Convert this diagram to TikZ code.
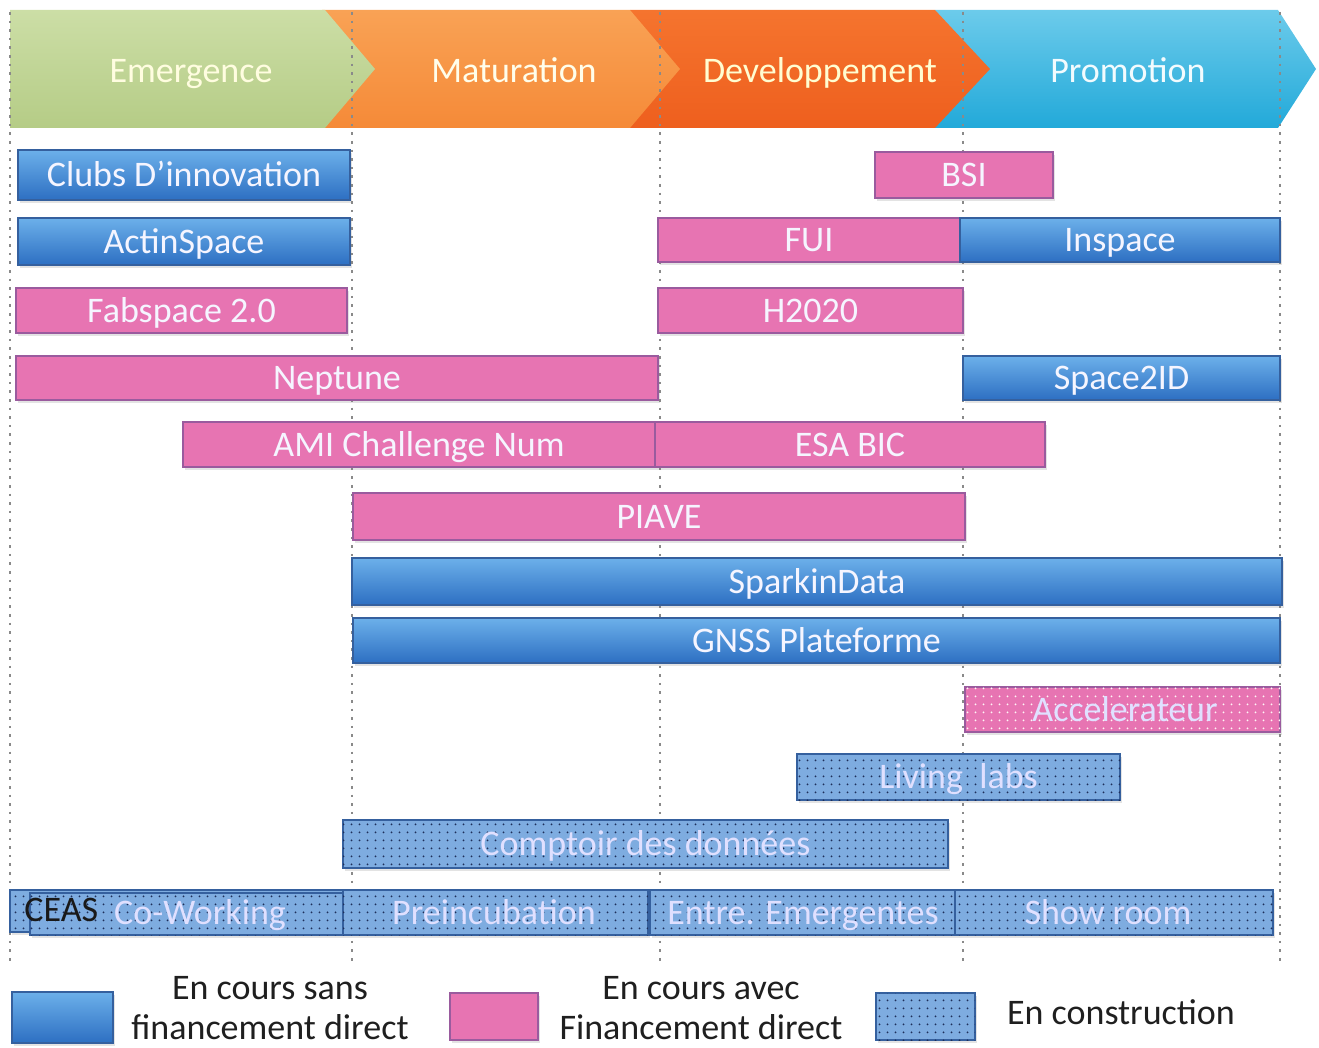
\documentclass[tikz,border=0pt]{standalone}
\usepackage{fontspec}
\setmainfont{Carlito}
\usetikzlibrary{patterns.meta,shadows,fit}
\definecolor{greenT}{HTML}{CCDEA6}
\definecolor{greenB}{HTML}{B5CC86}
\definecolor{orangeT}{HTML}{F9A255}
\definecolor{orangeB}{HTML}{F58A38}
\definecolor{dorangeT}{HTML}{F5742E}
\definecolor{dorangeB}{HTML}{EE5F1E}
\definecolor{cyanT}{HTML}{6CCBEB}
\definecolor{cyanB}{HTML}{22A9D9}
\definecolor{blueT}{HTML}{6CB0EA}
\definecolor{blueB}{HTML}{2D6FC2}
\definecolor{blueE}{HTML}{35609E}
\definecolor{pinkF}{HTML}{E774B2}
\definecolor{pinkE}{HTML}{9A5B9E}
\definecolor{cblue}{HTML}{7EACE0}
\definecolor{navy}{HTML}{1E2F5A}
\definecolor{guide}{HTML}{8A8A8A}
\begin{document}
\begin{tikzpicture}[x=0.5pt,y=-0.5pt,
  barbase/.style={rectangle, inner sep=0pt, line width=0.8pt,
    drop shadow={opacity=0.22, shadow xshift=0.8pt, shadow yshift=-1.4pt}},
  bluebar/.style={barbase, draw=blueE, top color=blueT, bottom color=blueB},
  pinkbar/.style={barbase, draw=pinkE, fill=pinkF},
  cbluebar/.style={barbase, draw=blueE, fill=cblue,
    postaction={pattern={Dots[distance=4pt,radius=0.55pt]}, pattern color=navy}},
  cpinkbar/.style={barbase, draw=pinkE, fill=pinkF,
    postaction={pattern={Dots[distance=4pt,radius=0.55pt]}, pattern color=white!85!pink}},
  bartext/.style={inner sep=0pt, font=\fontsize{18}{21}\selectfont, text=white!96!blue, text height=13.6pt, text depth=2pt},
  ctext/.style={bartext, text=white!88!blue},
  phase/.style={inner sep=0pt, font=\fontsize{18}{21}\selectfont, text height=13.6pt, text depth=2pt},
  guideline/.style={guide, line width=1.3pt, dash pattern=on 1.3pt off 3pt},
  legtext/.style={font=\fontsize{18}{20}\selectfont, text=black!88, align=center, inner sep=0pt}
]
\useasboundingbox (0,0) rectangle (1319,1048);
% ---- phase header ----
\shade[top color=cyanT, bottom color=cyanB] (935,10) -- (1278,10) -- (1316,69) -- (1278,128) -- (935,128) -- cycle;
\shade[top color=dorangeT, bottom color=dorangeB] (630,10) -- (935,10) -- (990,69) -- (935,128) -- (630,128) -- cycle;
\shade[top color=orangeT, bottom color=orangeB] (322,10) -- (630,10) -- (680,69) -- (630,128) -- (322,128) -- cycle;
\shade[top color=greenT, bottom color=greenB] (10,10) -- (325,10) -- (375,69) -- (325,128) -- (10,128) -- cycle;
\node[phase, text=white!88!yellow] (emergence) at (191,71) {Emergence};
\node[phase, text=white!92!yellow] (maturation) at (514,71) {Maturation};
\node[phase, text=white!82!yellow] (developpement) at (820,71) {Developpement};
\node[phase, text=white!95!cyan] (promotion) at (1128,71) {Promotion};
% ---- phase guides ----
\foreach \gx in {10,352,660,963,1280}
  \draw[guideline] (\gx,12) -- (\gx,965);
% ---- bars ----
\node[bluebar, fit={(18,150) (350,200)}] (clubs) {};
\node[bartext] (clubs-t) at (clubs.center) {Clubs D’innovation};
\node[pinkbar, fit={(875,152) (1053,198)}] (bsi) {};
\node[bartext] (bsi-t) at (bsi.center) {BSI};
\node[bluebar, fit={(18,218) (350,265)}] (actinspace) {};
\node[bartext] (actinspace-t) at (actinspace.center) {ActinSpace};
\node[pinkbar, fit={(658,218) (960,262)}] (fui) {};
\node[bartext] (fui-t) at (fui.center) {FUI};
\node[bluebar, fit={(960,218) (1280,262)}] (inspace) {};
\node[bartext] (inspace-t) at (inspace.center) {Inspace};
\node[pinkbar, fit={(16,288) (347,333)}] (fabspace) {};
\node[bartext] (fabspace-t) at (fabspace.center) {Fabspace 2.0};
\node[pinkbar, fit={(658,288) (963,333)}] (h2020) {};
\node[bartext] (h2020-t) at (h2020.center) {H2020};
\node[pinkbar, fit={(16,356) (658,400)}] (neptune) {};
\node[bartext] (neptune-t) at (neptune.center) {Neptune};
\node[bluebar, fit={(963,356) (1280,400)}] (space2id) {};
\node[bartext] (space2id-t) at (space2id.center) {Space2ID};
\node[pinkbar, fit={(183,422) (655,467)}] (ami) {};
\node[bartext] (ami-t) at (ami.center) {AMI Challenge Num};
\node[pinkbar, fit={(655,422) (1045,467)}] (esabic) {};
\node[bartext] (esabic-t) at (esabic.center) {ESA BIC};
\node[pinkbar, fit={(353,493) (965,540)}] (piave) {};
\node[bartext] (piave-t) at (piave.center) {PIAVE};
\node[bluebar, fit={(352,558) (1282,605)}] (sparkin) {};
\node[bartext] (sparkin-t) at (sparkin.center) {SparkinData};
\node[bluebar, fit={(353,618) (1280,663)}] (gnss) {};
\node[bartext] (gnss-t) at (gnss.center) {GNSS Plateforme};
\node[cpinkbar, fit={(965,687) (1280,732)}] (accel) {};
\node[ctext] (accel-t) at (1125,710) {Accelerateur};
\node[cbluebar, fit={(797,754) (1120,800)}] (living) {};
\node[ctext] (living-t) at (living.center) {Living\ \ labs};
\node[cbluebar, fit={(343,820) (948,868)}] (comptoir) {};
\node[ctext] (comptoir-t) at (comptoir.center) {Comptoir des données};
\node[cbluebar, fit={(10,890) (343,932)}] (ceasbox) {};
\node[cbluebar, fit={(30,893) (343,935)}] (coworking) {};
\node[ctext] (coworking-t) at (200,913) {Co-Working};
\node[cbluebar, fit={(343,890) (648,935)}] (preinc) {};
\node[ctext] (preinc-t) at (494,913) {Preincubation};
\node[cbluebar, fit={(650,890) (955,935)}] (entre) {};
\node[ctext] (entre-t) at (803,913) {Entre. Emergentes};
\node[cbluebar, fit={(955,890) (1273,935)}] (showroom) {};
\node[ctext] (showroom-t) at (1108,913) {Show room};
\node[bartext, text=black!90, anchor=west] (ceas) at (24,910) {CEAS};
% ---- legend ----
\node[bluebar, drop shadow={opacity=0}, fit={(12,992) (113,1043)}] (legblue) {};
\node[legtext] (legbluetxt) at (270,1008) {En cours sans\\financement direct};
\node[pinkbar, drop shadow={opacity=0}, fit={(450,993) (538,1040)}] (legpink) {};
\node[legtext] (legpinktxt) at (701,1008) {En cours avec\\Financement direct};
\node[cbluebar, drop shadow={opacity=0}, fit={(876,993) (975,1040)}] (legconstr) {};
\node[legtext] (legconstrtxt) at (1121,1012) {En construction};
\end{tikzpicture}
\end{document}
